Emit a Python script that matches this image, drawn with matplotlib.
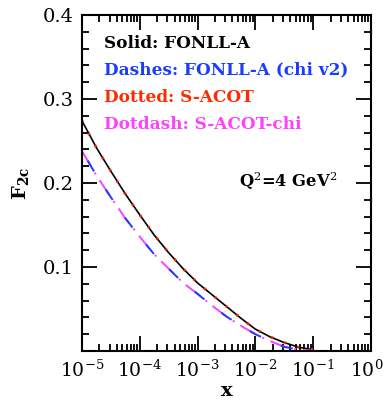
import numpy as np
import matplotlib
matplotlib.use("Agg")
import matplotlib.pyplot as plt
import matplotlib.transforms as mtransforms
from matplotlib.ticker import MultipleLocator, LogLocator, NullFormatter

# log10(x) grid and F2c values
logx = [-5.0, -4.75, -4.5, -4.25, -4.0, -3.75, -3.5, -3.25, -3.0,
        -2.75, -2.5, -2.25, -2.0, -1.75, -1.5, -1.25, -1.0]
fonll_a = [0.274, 0.242, 0.214, 0.187, 0.162, 0.138, 0.117, 0.098, 0.081,
           0.067, 0.053, 0.039, 0.026, 0.017, 0.010, 0.0045, 0.0014]
fonll_a_chi = [0.238, 0.209, 0.183, 0.158, 0.136, 0.115, 0.098, 0.081, 0.068,
               0.054, 0.041, 0.030, 0.020, 0.012, 0.005, 0.0015, 0.0005]
s_acot = [0.274, 0.242, 0.214, 0.187, 0.162, 0.138, 0.117, 0.098, 0.081,
          0.067, 0.053, 0.039, 0.026, 0.017, 0.010, 0.0045, 0.0014]
s_acot_chi = [0.238, 0.209, 0.183, 0.158, 0.136, 0.115, 0.098, 0.081, 0.068,
              0.054, 0.041, 0.030, 0.020, 0.012, 0.005, 0.0015, 0.0005]

labels = ["Solid: FONLL-A", "Dashes: FONLL-A (chi v2)", "Dotted: S-ACOT", "Dotdash: S-ACOT-chi"]
colors = ["black", "#1a3cff", "#ff2a00", "#ff40ff"]

plt.rcParams['font.family'] = ['DejaVu Serif']
plt.rcParams['mathtext.fontset'] = 'dejavuserif'
plt.rcParams['lines.scale_dashes'] = False

fig = plt.figure(figsize=(3.85, 4.03), dpi=100)
ax = fig.add_axes([0.213, 0.129, 0.7506, 0.8337])

xs = 10.0 ** np.array(logx)
ax.plot(xs, fonll_a, color=colors[0], lw=1.2)
ax.plot(xs, s_acot, color=colors[2], lw=2.0, linestyle=(0, (1.5, 8.5)))
ax.plot(xs, s_acot_chi, color=colors[3], lw=1.4, linestyle=(0, (13, 5, 1.5, 5)))
ax.plot(xs, fonll_a_chi, color=colors[1], lw=1.4, linestyle=(-8, (9, 15.5)))

ax.set_xscale('log')
ax.set_xlim(1e-5, 1)
ax.set_ylim(0, 0.4)

ax.yaxis.set_minor_locator(MultipleLocator(0.02))
ax.set_yticks([0.1, 0.2, 0.3, 0.4])
ax.set_yticklabels(["0.1", "0.2", "0.3", "0.4"])
ax.xaxis.set_major_locator(LogLocator(base=10, numticks=10))
ax.xaxis.set_minor_locator(LogLocator(base=10, subs=np.arange(2, 10), numticks=20))
ax.xaxis.set_minor_formatter(NullFormatter())

for s in ax.spines.values():
    s.set_linewidth(1.5)
ax.tick_params(which='both', direction='in', top=True, right=True, width=1.3,
               labelsize=14)
ax.tick_params(axis='x', labelsize=13.5)
ax.tick_params(which='major', length=11, pad=6)
ax.tick_params(which='minor', length=5)

ax.set_xlabel("x", fontsize=14, fontweight='bold', labelpad=1)
ax.set_ylabel(r"F$_{\mathbf{2c}}$", fontsize=14, fontweight='bold', labelpad=8)

ys = [0.916, 0.836, 0.755, 0.675]
for lab, c, yy in zip(labels, colors, ys):
    ax.text(0.075, yy, lab, color=c, fontsize=12.2, fontweight='bold',
            transform=ax.transAxes, va='center')

ax.text(0.885, 0.505, r"Q$^2$=4 GeV$^2$", fontsize=11.8, fontweight='bold',
        transform=ax.transAxes, ha='right', va='center')

# nudge the 10^0 label left so it stays inside the figure
fig.canvas.draw()
for tick in ax.xaxis.get_major_ticks():
    if np.isclose(tick.get_loc(), 1.0):
        lab = tick.label1
        lab.set_transform(lab.get_transform() +
                          mtransforms.ScaledTranslation(-3 / 72, 0, fig.dpi_scale_trans))

fig.savefig("out.png", dpi=100)
